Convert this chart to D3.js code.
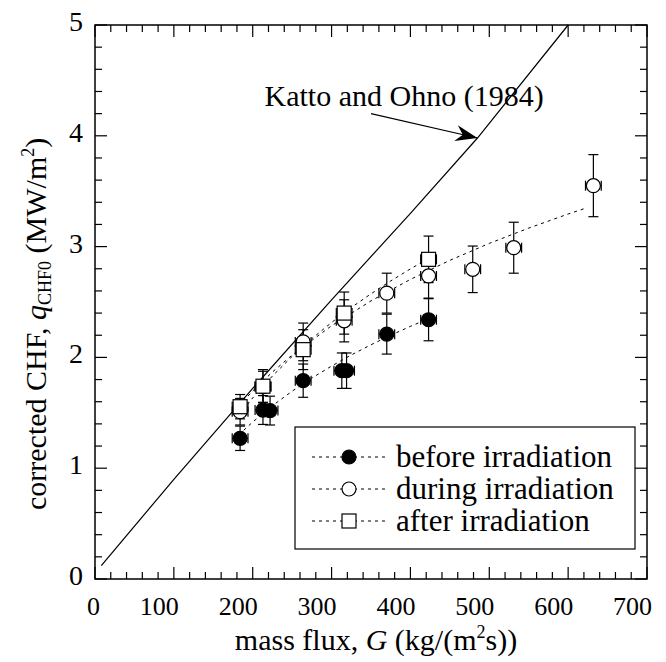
<!DOCTYPE html>
<html><head><meta charset="utf-8">
<script src="https://cdn.jsdelivr.net/npm/d3@7"></script>
<style>body{margin:0;background:#fff}svg{display:block}text{font-family:"Liberation Serif","Times New Roman",serif;fill:#000}</style>
</head><body>
<script>
// ---- data ----
const beforeG = [184, 213, 222, 264, 313, 319, 370, 423];
const beforeQ = [1.27, 1.525, 1.52, 1.79, 1.88, 1.88, 2.21, 2.34];
const beforeErr = [0.11, 0.13, 0.13, 0.15, 0.16, 0.16, 0.18, 0.19];
const duringG = [184, 213, 264, 316, 370, 423, 479, 531, 632];
const duringQ = [1.51, 1.735, 2.14, 2.33, 2.58, 2.735, 2.795, 2.99, 3.55];
const duringErr = [0.12, 0.14, 0.17, 0.19, 0.18, 0.20, 0.21, 0.23, 0.28];
const afterG = [184, 213, 264, 316, 423];
const afterQ = [1.555, 1.74, 2.07, 2.40, 2.885];
const afterErr = [0.11, 0.15, 0.18, 0.19, 0.21];
const gErr = 10;
// fitted dotted curves
const beforeFitG = [182, 200, 225, 250, 275, 300, 325, 350, 375, 400, 420];
const beforeFitQ = [1.30, 1.417, 1.564, 1.695, 1.814, 1.922, 2.022, 2.114, 2.200, 2.280, 2.341];
const duringFitG = [182, 200, 225, 250, 300, 350, 400, 450, 500, 550, 600, 624];
const duringFitQ = [1.559, 1.697, 1.868, 2.021, 2.286, 2.510, 2.704, 2.876, 3.029, 3.167, 3.294, 3.351];
const afterFitG = [182, 200, 225, 250, 275, 300, 325, 350, 375, 400, 420];
const afterFitQ = [1.476, 1.634, 1.832, 2.009, 2.169, 2.315, 2.450, 2.574, 2.690, 2.799, 2.881];
// Katto and Ohno (1984) correlation
const kattoG = [8, 100, 200, 300, 400, 485, 600];
const kattoQ = [0.12, 0.90, 1.72, 2.52, 3.30, 3.98, 5.0];
const xTicks = [0, 100, 200, 300, 400, 500, 600, 700];
const yTicks = [0, 1, 2, 3, 4, 5];
const legendLabels = ["before irradiation", "during irradiation", "after irradiation"];

const W = 666, H = 662;
const svg = d3.select("body").append("svg").attr("width", W).attr("height", H);
const x = d3.scaleLinear().domain([0, 700]).range([95, 647]);
const y = d3.scaleLinear().domain([0, 5]).range([579, 25]);
const FT = 26, FS = 30, FL = 31;

// frame & ticks
const g = svg.append("g");
const minorX = d3.range(0, 701, 20), minorY = d3.range(0, 5.001, 0.2);
function isMajX(v){return Math.abs(v/100-Math.round(v/100))<1e-6;}
function isMajY(v){return Math.abs(v-Math.round(v))<1e-6;}
minorX.forEach(v=>{
  const L = isMajX(v)?12:7;
  g.append("line").attr("x1",x(v)).attr("x2",x(v)).attr("y1",y(0)).attr("y2",y(0)-L).attr("stroke","#000").attr("stroke-width",1.2);
  g.append("line").attr("x1",x(v)).attr("x2",x(v)).attr("y1",y(5)).attr("y2",y(5)+L).attr("stroke","#000").attr("stroke-width",1.2);
});
minorY.forEach(v=>{
  const L = isMajY(v)?12:7;
  g.append("line").attr("y1",y(v)).attr("y2",y(v)).attr("x1",x(0)).attr("x2",x(0)+L).attr("stroke","#000").attr("stroke-width",1.2);
  g.append("line").attr("y1",y(v)).attr("y2",y(v)).attr("x1",x(700)).attr("x2",x(700)-L).attr("stroke","#000").attr("stroke-width",1.2);
});
g.append("rect").attr("x",x(0)).attr("y",y(5)).attr("width",x(700)-x(0)).attr("height",y(0)-y(5))
  .attr("fill","none").attr("stroke","#000").attr("stroke-width",1.5);

xTicks.forEach(v=>{
  svg.append("text").attr("x",x(v)+5).attr("y",y(0)+36).attr("text-anchor","end").attr("font-size",FT).text(v);
});
yTicks.forEach(v=>{
  svg.append("text").attr("x",x(0)-12).attr("y",y(v)+6).attr("text-anchor","end").attr("font-size",FT+2).text(v);
});

// axis titles
const xt = svg.append("text").attr("x",376).attr("y",650).attr("text-anchor","middle").attr("font-size",FS);
xt.append("tspan").text("mass flux, ");
xt.append("tspan").attr("font-style","italic").text("G");
xt.append("tspan").text(" (kg/(m");
xt.append("tspan").attr("font-size",18).attr("dy",-12).text("2");
xt.append("tspan").attr("dy",12).text("s))");

const yt = svg.append("text").attr("transform","translate(46,510) rotate(-90)").attr("font-size",FS);
yt.append("tspan").text("corrected CHF, ");
yt.append("tspan").attr("font-style","italic").text("q");
yt.append("tspan").attr("font-size",18).attr("dy",5).text("CHF0");
yt.append("tspan").attr("dy",-5).text(" (MW/m");
yt.append("tspan").attr("font-size",18).attr("dy",-12).text("2");
yt.append("tspan").attr("dy",12).text(")");

// Katto line
const line = d3.line().x(d=>x(d[0])).y(d=>y(d[1]));
svg.append("path").datum(d3.zip(kattoG,kattoQ)).attr("d",line).attr("fill","none").attr("stroke","#000").attr("stroke-width",1.2);

// annotation
svg.append("text").attr("x",x(215)).attr("y",y(4.27)).attr("font-size",FS).text("Katto and Ohno (1984)");
const a0=[x(350),y(4.2)], a1=[x(485),y(3.98)];
svg.append("line").attr("x1",a0[0]).attr("y1",a0[1]).attr("x2",a1[0]).attr("y2",a1[1]).attr("stroke","#000").attr("stroke-width",1.2);
const ang = Math.atan2(a1[1]-a0[1],a1[0]-a0[0])*180/Math.PI;
svg.append("path").attr("d","M0,0 L-22,-8 L-15,0 L-22,8 Z").attr("fill","#000")
  .attr("transform",`translate(${a1[0]},${a1[1]}) rotate(${ang})`);

// fit curves
[[beforeFitG,beforeFitQ],[duringFitG,duringFitQ],[afterFitG,afterFitQ]].forEach(([G,Q])=>{
  svg.append("path").datum(d3.zip(G,Q)).attr("d",line).attr("fill","none").attr("stroke","#000")
    .attr("stroke-width",1).attr("stroke-dasharray","3,4");
});

// series
const series = [
  {G:beforeG,Q:beforeQ,E:beforeErr,shape:"circle",fill:"#000"},
  {G:duringG,Q:duringQ,E:duringErr,shape:"circle",fill:"#fff"},
  {G:afterG,Q:afterQ,E:afterErr,shape:"square",fill:"#fff"}
];
function marker(sel,shape,fill,cx,cy){
  if(shape==="circle") sel.append("circle").attr("cx",cx).attr("cy",cy).attr("r",7).attr("fill",fill).attr("stroke","#000").attr("stroke-width",1.2);
  else sel.append("rect").attr("x",cx-7).attr("y",cy-7).attr("width",14).attr("height",14).attr("fill",fill).attr("stroke","#000").attr("stroke-width",1.2);
}
series.forEach(s=>{
  const eg = svg.append("g").attr("stroke","#000").attr("stroke-width",1.2);
  s.G.forEach((gv,i)=>{
    const cx=x(gv), cy=y(s.Q[i]), yt=y(s.Q[i]+s.E[i]), yb=y(s.Q[i]-s.E[i]);
    const xl=x(gv-gErr), xr=x(gv+gErr);
    eg.append("line").attr("x1",cx).attr("x2",cx).attr("y1",yt).attr("y2",yb);
    eg.append("line").attr("x1",cx-5).attr("x2",cx+5).attr("y1",yt).attr("y2",yt);
    eg.append("line").attr("x1",cx-5).attr("x2",cx+5).attr("y1",yb).attr("y2",yb);
    eg.append("line").attr("x1",xl).attr("x2",xr).attr("y1",cy).attr("y2",cy);
    eg.append("line").attr("x1",xl).attr("x2",xl).attr("y1",cy-5).attr("y2",cy+5);
    eg.append("line").attr("x1",xr).attr("x2",xr).attr("y1",cy-5).attr("y2",cy+5);
  });
});
series.forEach(s=>{
  const mg = svg.append("g");
  s.G.forEach((gv,i)=>marker(mg,s.shape,s.fill,x(gv),y(s.Q[i])));
});

// legend
const lg = svg.append("g");
lg.append("rect").attr("x",295).attr("y",427).attr("width",340).attr("height",122).attr("fill","#fff").attr("stroke","#000").attr("stroke-width",1.2);
legendLabels.forEach((lab,i)=>{
  const ly = 457 + i*32;
  lg.append("line").attr("x1",312).attr("x2",388).attr("y1",ly).attr("y2",ly).attr("stroke","#000").attr("stroke-width",1).attr("stroke-dasharray","3,4");
  marker(lg,series[i].shape,series[i].fill,349,ly);
  lg.append("text").attr("x",396).attr("y",ly+10).attr("font-size",FL).text(lab);
});
</script>
</body></html>
